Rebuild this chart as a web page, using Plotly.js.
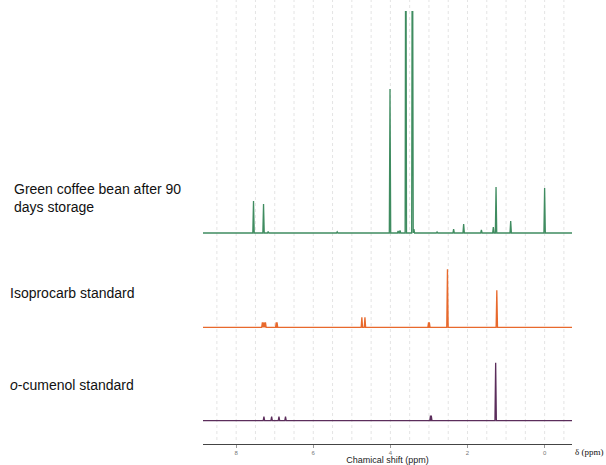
<!DOCTYPE html>
<html><head><meta charset="utf-8">
<script src="https://cdn.plot.ly/plotly-3.0.1.min.js"></script>
<style>html,body{margin:0;padding:0;background:#fff}#chart{width:606px;height:465px}</style>
</head><body><div id="chart"></div>
<script>
// Peak positions (ppm) and intensities (arbitrary units)
const coffeePpm = [7.55, 7.29, 7.17, 5.38, 4.01, 3.80, 3.75, 3.60, 3.43, 3.39, 2.79, 2.36, 2.10, 1.64, 1.33, 1.26, 0.88, 0.00];
const coffeeInt = [32, 29, 1.5, 1.2, 144, 2, 2.5, 400, 400, 4, 1, 4, 9, 3, 6, 46, 12, 45];
const isoPpm = [7.32, 7.28, 7.24, 6.96, 6.94, 4.74, 4.66, 3.01, 2.99, 2.52, 1.24];
const isoInt = [5, 5, 5, 5, 5, 10, 10, 5, 5, 58, 37];
const cumPpm = [7.28, 7.08, 6.89, 6.72, 2.96, 2.94, 1.27];
const cumInt = [4, 4, 4, 4, 5, 5, 58];
const tickVals = [8, 6, 4, 2, 0];
const tickText = ['8', '6', '4', '2', '0'];
const gridVals = [8.5, 8, 7.5, 7, 6.5, 6, 5.5, 5, 4.5, 4, 3.5, 3, 2.5, 2, 1.5, 1, 0.5, 0, -0.5];
const labels = ['Green coffee bean after 90<br>days storage', 'Isoprocarb standard', '<i>o</i>-cumenol standard'];

const X_LEFT = 8.86, X_RIGHT = -0.71, HW = 0.018;

function stick(ppm, inten) {
  const idx = ppm.map((p, i) => i).sort((a, b) => ppm[b] - ppm[a]);
  const xs = [X_LEFT], ys = [0];
  idx.forEach(i => {
    xs.push(ppm[i] + HW, ppm[i], ppm[i] - HW);
    ys.push(0, inten[i], 0);
  });
  xs.push(X_RIGHT); ys.push(0);
  return {x: xs, y: ys};
}

const H = 465, W = 606;
const py = v => 1 - v / H;

const c = stick(coffeePpm, coffeeInt);
const iso = stick(isoPpm, isoInt);
const cum = stick(cumPpm, cumInt);

const traces = [
  {x: c.x, y: c.y, xaxis: 'x', yaxis: 'y3', mode: 'lines', line: {color: '#3f8c60', width: 1.3}, hoverinfo: 'skip'},
  {x: iso.x, y: iso.y, xaxis: 'x', yaxis: 'y2', mode: 'lines', line: {color: '#e8692c', width: 1.3}, hoverinfo: 'skip'},
  {x: cum.x, y: cum.y, xaxis: 'x', yaxis: 'y', mode: 'lines', line: {color: '#5b2d5b', width: 1.3}, hoverinfo: 'skip'}
];

const yCommon = {visible: false, fixedrange: true, showgrid: false, zeroline: false};

const shapes = gridVals.map(g => ({
  type: 'line', xref: 'x', yref: 'paper', x0: g, x1: g, y0: py(440), y1: 1,
  line: {color: '#e4e4e4', width: 1, dash: 'dot'}, layer: 'below'
}));

const annFont = {family: 'Liberation Sans, Arial, sans-serif', size: 14, color: '#111'};
const annotations = [
  {text: labels[0], x: 12 / W, y: py(198), xref: 'paper', yref: 'paper', xanchor: 'left', yanchor: 'middle', align: 'left', showarrow: false, font: annFont},
  {text: labels[1], x: 8 / W, y: py(293), xref: 'paper', yref: 'paper', xanchor: 'left', yanchor: 'middle', align: 'left', showarrow: false, font: annFont},
  {text: labels[2], x: 8 / W, y: py(385), xref: 'paper', yref: 'paper', xanchor: 'left', yanchor: 'middle', align: 'left', showarrow: false, font: annFont},
  {text: 'δ (ppm)', x: 605 / W, y: py(452), xref: 'paper', yref: 'paper', xanchor: 'right', yanchor: 'middle', showarrow: false,
   borderpad: 0, font: {family: 'Liberation Serif, DejaVu Serif, serif', size: 9, color: '#111'}}
];

const layout = {
  width: W, height: H,
  margin: {l: 0, r: 0, t: 0, b: 0},
  paper_bgcolor: '#fff', plot_bgcolor: 'rgba(0,0,0,0)',
  showlegend: false,
  xaxis: {
    domain: [203 / W, 572 / W], range: [X_LEFT, X_RIGHT], anchor: 'free', position: py(444),
    showline: true, linecolor: '#444', linewidth: 1, showgrid: false, zeroline: false,
    tickmode: 'array', tickvals: tickVals, ticktext: tickText, ticks: 'outside', ticklen: 3, tickcolor: '#999',
    tickfont: {family: 'Liberation Sans, Arial, sans-serif', size: 6, color: '#777'},
    title: {text: 'Chamical shift (ppm)', font: {family: 'Liberation Sans, Arial, sans-serif', size: 9, color: '#222'}, standoff: 1},
    fixedrange: true, automargin: false
  },
  yaxis: Object.assign({domain: [py(424), py(350)], range: [-3.3, 70.7]}, yCommon),
  yaxis2: Object.assign({domain: [py(330.3), py(250)], range: [-3, 77.3]}, yCommon),
  yaxis3: Object.assign({domain: [py(236), py(11)], range: [-3, 222]}, yCommon),
  shapes: shapes,
  annotations: annotations
};

Plotly.newPlot('chart', traces, layout, {staticPlot: true, displayModeBar: false});
</script>
</body></html>
